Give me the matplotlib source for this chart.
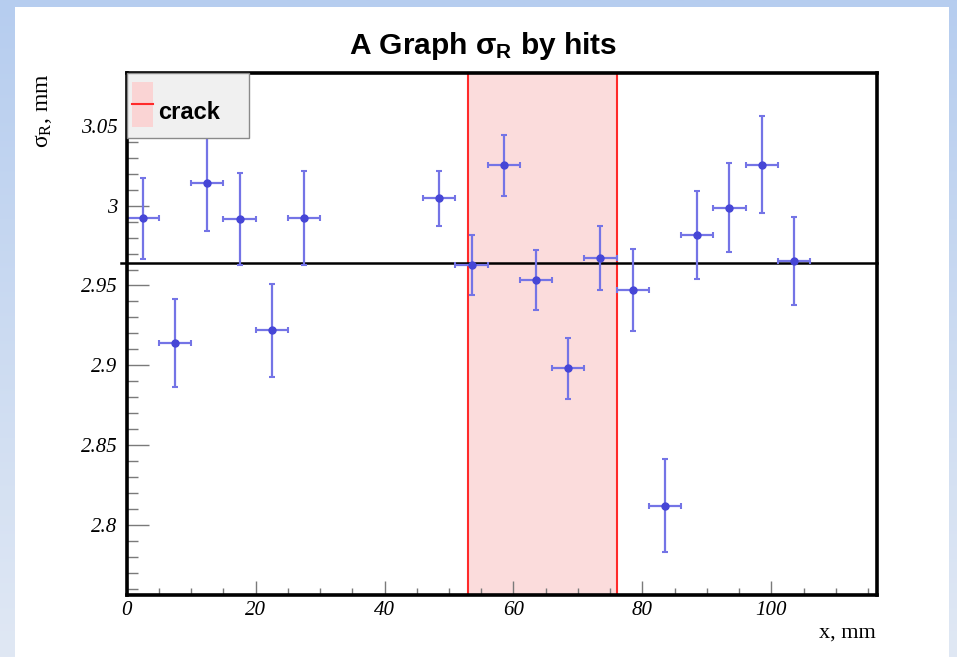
import numpy as np
import matplotlib
matplotlib.use("Agg")
import matplotlib.pyplot as plt
from matplotlib.ticker import MultipleLocator, FuncFormatter
from matplotlib.patches import Rectangle
from matplotlib.colors import LinearSegmentedColormap
import matplotlib.transforms as mtransforms

# ---- data ----
x_mm = [2.5, 7.5, 12.5, 17.5, 22.5, 27.5, 48.5, 53.5, 58.5, 63.5,
        68.5, 73.5, 78.5, 83.5, 88.5, 93.5, 98.5, 103.5]
x_halfwidth = [2.5, 2.5, 2.5, 2.5, 2.5, 2.5, 2.5, 2.5, 2.5, 2.5,
               2.5, 2.5, 2.5, 2.5, 2.5, 2.5, 2.5, 2.5]
sigma_r = [2.992, 2.914, 3.014, 2.9915, 2.922, 2.9925, 3.0046, 2.963, 3.0253, 2.9535,
           2.898, 2.9674, 2.9472, 2.812, 2.9818, 2.9987, 3.0257, 2.9652]
sigma_err = [0.0252, 0.0275, 0.0296, 0.0287, 0.0292, 0.0294, 0.0174, 0.0189, 0.0191, 0.0190,
             0.0191, 0.0200, 0.0258, 0.0291, 0.0275, 0.0280, 0.0303, 0.0276]
crack_range = [53.0, 76.0]
mean_sigma = 2.964
x_limits = [0.0, 116.35]
y_limits = [2.756, 3.083]

plt.rcParams["font.family"] = ["Liberation Serif", "DejaVu Sans"]
plt.rcParams["font.style"] = "italic"

W, H = 957, 657
fig = plt.figure(figsize=(W / 100, H / 100), dpi=100)

# background gradient frame + white canvas
bg = fig.add_axes([0, 0, 1, 1], zorder=-10)
bg.axis("off")
cmap = LinearSegmentedColormap.from_list("bg", ["#b6cdef", "#e0e8f4"])
bg.imshow(np.linspace(0, 1, 256).reshape(-1, 1), aspect="auto", cmap=cmap,
          extent=[0, 1, 0, 1], origin="upper")
bg.add_patch(Rectangle((15 / W, 0), (949 - 15) / W, 1 - 7 / H,
                       transform=bg.transAxes, facecolor="white", edgecolor="none"))
bg.set_xlim(0, 1)
bg.set_ylim(0, 1)

ax = fig.add_axes([126.7 / W, 1 - 595 / H, (876.7 - 126.7) / W, (595 - 73.3) / H])
ax.set_xlim(*x_limits)
ax.set_ylim(*y_limits)

# crack band
ax.axvspan(crack_range[0], crack_range[1], facecolor="#fbdcdc", edgecolor="none", zorder=1)
for xc in crack_range:
    ax.axvline(xc, color="#ff2a2a", lw=1.5, zorder=2)

# mean line (slightly sticking out of the left frame)
trans = mtransforms.blended_transform_factory(ax.transAxes, ax.transData)
ax.plot([-0.008, 1.0], [mean_sigma, mean_sigma], transform=trans, color="black",
        lw=1.8, clip_on=False, zorder=3)

# data points
ax.errorbar(x_mm, sigma_r, xerr=x_halfwidth, yerr=sigma_err, fmt="o", ms=5,
            color="#4646d6", mfc="#4646d6", mec="#4646d6",
            ecolor="#7474e6", elinewidth=1.6, capsize=2.5, capthick=1.5, zorder=4)

# frame
for s in ax.spines.values():
    s.set_linewidth(2.6)
    s.set_color("black")
    s.set_zorder(6)

ax.xaxis.set_major_locator(MultipleLocator(20))
ax.xaxis.set_minor_locator(MultipleLocator(5))
ax.yaxis.set_major_locator(MultipleLocator(0.05))
ax.yaxis.set_minor_locator(MultipleLocator(0.01))
ax.xaxis.set_major_formatter(FuncFormatter(lambda v, _: f"{v:g}"))
ax.yaxis.set_major_formatter(FuncFormatter(lambda v, _: f"{round(v, 4):g}"))

ax.tick_params(which="both", direction="in", top=False, right=False,
               color="#7a7a7a", width=1.0, labelsize=15)
ax.tick_params(axis="y", which="major", length=16, pad=6.5)
ax.tick_params(axis="y", which="minor", length=8)
ax.tick_params(axis="x", which="major", length=10, pad=4.5)
ax.tick_params(axis="x", which="minor", length=5)

# legend (drawn as a ROOT-style box)
ax.add_patch(Rectangle((0, 0.876), 0.163, 0.124, transform=ax.transAxes,
                       facecolor="#f0f0f0", edgecolor="#8a8a8a", lw=1.0,
                       zorder=7, clip_on=False))
ax.add_patch(Rectangle((0.0067, 0.8976), 0.0288, 0.0857, transform=ax.transAxes,
                       facecolor="#fad4d4", edgecolor="none", zorder=8))
ax.plot([0.0067, 0.0355], [0.9406, 0.9406], transform=ax.transAxes,
        color="#ff2a2a", lw=1.5, zorder=9)
ax.text(0.0413, 0.912, "crack", transform=ax.transAxes, fontsize=17,
        fontweight="bold", fontstyle="normal", family="Liberation Sans",
        va="baseline", ha="left", zorder=9)

# title and axis labels
fig.text(483 / W, 1 - 53.5 / H, r"A Graph $\mathregular{\sigma_{R}}$ by hits",
         fontsize=21.5, fontweight="bold", fontstyle="normal", family="Liberation Sans",
         ha="center", va="baseline")
fig.text(43 / W, 1 - 73 / H, r"$\mathregular{\sigma_{R}}$, mm", rotation=90,
         fontsize=17, fontstyle="normal", family="Liberation Serif", ha="center", va="top")
fig.text(876 / W, 1 - 633 / H, "x, mm", fontsize=16, fontstyle="normal",
         family="Liberation Serif", ha="right", va="center")

fig.savefig("out.png", dpi=100)
